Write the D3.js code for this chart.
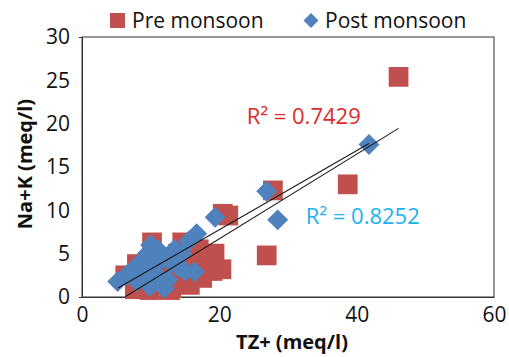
<!DOCTYPE html>
<html>
<head>
<meta charset="utf-8">
<script src="https://cdn.jsdelivr.net/npm/d3@7"></script>
<style>
  html, body { margin: 0; padding: 0; background: #fff; }
  svg { display: block; }
  text { font-family: "Open Sans", "Liberation Sans", sans-serif; }
</style>
</head>
<body>
<svg id="chart" width="509" height="357"></svg>
<script>
// ---- data ----
const seriesNames = ["Pre monsoon", "Post monsoon"];
const preX = [46.1, 38.7, 27.8, 26.9, 20.5, 21.3, 19.3, 20.3, 18.5, 17.5, 15.7, 12.8, 9.9, 7.7, 6.3, 8.0, 10.2, 14.6, 15.8, 11.5, 13.5, 16.5, 9.0, 11.0, 14.0, 12.0, 17.0, 10.5, 19.0, 13.0];
const preY = [25.4, 13.0, 12.3, 4.8, 9.6, 9.4, 5.0, 3.2, 3.6, 2.2, 1.4, 0.8, 0.8, 0.9, 2.5, 3.8, 6.3, 6.3, 6.0, 4.5, 3.0, 4.2, 2.0, 1.5, 5.0, 3.5, 5.5, 3.0, 3.0, 1.0];
const postX = [41.8, 26.9, 28.5, 19.4, 16.7, 15.6, 5.2, 6.5, 7.5, 8.5, 9.5, 10.0, 11.0, 12.0, 13.0, 14.0, 15.0, 16.4, 9.9, 12.0, 11.0, 8.0, 13.5, 10.5, 14.5, 12.5, 9.0];
const postY = [17.6, 12.2, 8.9, 9.2, 7.3, 6.5, 1.8, 2.5, 3.2, 4.0, 5.0, 6.0, 5.5, 4.5, 4.0, 3.5, 3.0, 2.9, 1.2, 1.0, 2.5, 1.8, 5.5, 3.5, 5.0, 2.0, 2.5];
// linear trendlines (slope, intercept) and R² labels
const trendSlope = [0.488, 0.456];
const trendIntercept = [-3.04, -1.36];
const r2Labels = ["R\u00B2 = 0.7429", "R\u00B2 = 0.8252"];
const xTicks = [0, 20, 40, 60];
const yTicks = [0, 5, 10, 15, 20, 25, 30];
const xTitle = "TZ+ (meq/l)";
const yTitle = "Na+K (meq/l)";

// ---- styles ----
const colors = ["#C0504D", "#4F81BD"];
const labelColors = ["#dd2a2a", "#21b1ee"];
const pL = 82, pR = 494, pT = 37, pB = 297;

const svg = d3.select("#chart");
const x = d3.scaleLinear().domain([0, 60]).range([pL, pR]);
const y = d3.scaleLinear().domain([0, 30]).range([pB, pT]);

// plot box
svg.append("rect").attr("x", pL).attr("y", pT)
  .attr("width", pR - pL).attr("height", pB - pT)
  .attr("fill", "none").attr("stroke", "#333").attr("stroke-width", 1);

// axes
const xAxis = d3.axisBottom(x).tickValues(xTicks).tickSize(0).tickPadding(10);
const yAxis = d3.axisLeft(y).tickValues(yTicks).tickSize(3).tickPadding(9);
const gx = svg.append("g").attr("transform", `translate(0,${pB})`).call(xAxis);
const gy = svg.append("g").attr("transform", `translate(${pL},0)`).call(yAxis);
[gx, gy].forEach(g => {
  g.select(".domain").attr("stroke", "#333");
  g.selectAll(".tick line").attr("stroke", "#333");
  g.selectAll("text").attr("font-family", "Open Sans").attr("font-size", 21).attr("fill", "#111");
});
gy.selectAll(".tick line").attr("stroke-opacity", 0);

// axis titles
svg.append("text").attr("x", (pL + pR) / 2 + 4).attr("y", 349)
  .attr("text-anchor", "middle").attr("font-size", 20).attr("font-weight", "bold")
  .attr("fill", "#111").text(xTitle);
svg.append("text").attr("transform", `translate(32,${(pT + pB) / 2 - 3}) rotate(-90)`)
  .attr("text-anchor", "middle").attr("font-size", 20).attr("font-weight", "bold")
  .attr("fill", "#111").text(yTitle);

// markers
const sq = d3.symbol().type(d3.symbolSquare).size(390);
const dia = d3.symbol().type(d3.symbolSquare).size(220);
const preData = preX.map((v, i) => [v, preY[i]]);
const postData = postX.map((v, i) => [v, postY[i]]);

svg.append("g").selectAll("path").data(preData).join("path")
  .attr("d", sq).attr("fill", colors[0])
  .attr("transform", d => `translate(${x(d[0])},${y(d[1])})`);
svg.append("g").selectAll("path").data(postData).join("path")
  .attr("d", dia).attr("fill", colors[1])
  .attr("transform", d => `translate(${x(d[0])},${y(d[1])}) rotate(45)`);

// trendlines
[preX, postX].forEach((xs, i) => {
  const [x0, x1] = d3.extent(xs);
  svg.append("line")
    .attr("x1", x(x0)).attr("y1", y(trendSlope[i] * x0 + trendIntercept[i]))
    .attr("x2", x(x1)).attr("y2", y(trendSlope[i] * x1 + trendIntercept[i]))
    .attr("stroke", "#1a1a1a").attr("stroke-width", 1.1);
});

// R² labels
svg.append("text").attr("x", x(24)).attr("y", y(20.0)).attr("font-size", 22)
  .attr("fill", labelColors[0]).text(r2Labels[0]);
svg.append("text").attr("x", x(32.6)).attr("y", y(8.4)).attr("font-size", 22)
  .attr("fill", labelColors[1]).text(r2Labels[1]);

// legend
const lg = svg.append("g");
lg.append("path").attr("d", d3.symbol().type(d3.symbolSquare).size(225))
  .attr("fill", colors[0]).attr("transform", "translate(117.5,20.5)");
lg.append("text").attr("x", 132).attr("y", 27.5).attr("font-size", 21).attr("fill", "#111").text(seriesNames[0]);
lg.append("path").attr("d", d3.symbol().type(d3.symbolSquare).size(110))
  .attr("fill", colors[1]).attr("transform", "translate(311,20.5) rotate(45)");
lg.append("text").attr("x", 325).attr("y", 27.5).attr("font-size", 21).attr("fill", "#111").text(seriesNames[1]);
</script>
</body>
</html>
